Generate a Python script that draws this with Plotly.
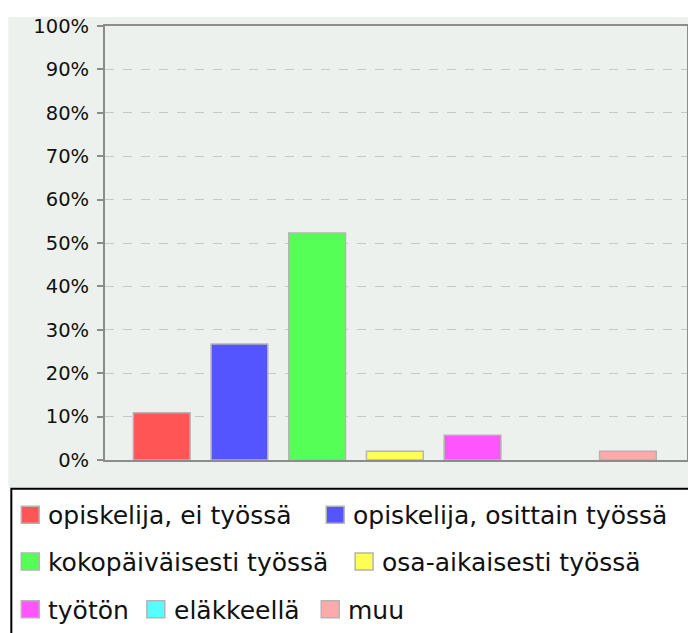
import plotly.graph_objects as go

categories = ["opiskelija, ei työssä", "opiskelija, osittain työssä", "kokopäiväisesti työssä",
              "osa-aikaisesti työssä", "työtön", "eläkkeellä", "muu"]
values = [0.109, 0.267, 0.523, 0.020, 0.057, 0.0, 0.020]
colors = ["#ff5555", "#5555ff", "#55ff55", "#ffff55", "#ff55ff", "#55ffff", "#ffaaaa"]
tick_vals = [i / 10 for i in range(11)]
tick_text = [f"{i * 10}%" for i in range(11)]

# page body has an 8px margin; figure sits at (8, 8)
OFF = 8
W, H = 696 - OFF, 633 - OFF
L, R, T, B = 105 - OFF, 7, 24 - OFF, 173
PW, PH = W - L - R, H - T - B


def px(x):  # page pixel x -> paper
    return (x - OFF - L) / PW


def py(y):  # page pixel y -> paper
    return (H - B - (y - OFF)) / PH


outline = ["#b4b4b4" if v > 0 else "rgba(0,0,0,0)" for v in values]

fig = go.Figure()
fig.add_trace(go.Bar(
    x=categories, y=values,
    marker=dict(color=colors, line=dict(color=outline, width=1.5)),
    showlegend=False, hoverinfo="x+y",
))

shapes = []
annotations = []
# grey chart background
shapes.append(dict(type="rect", xref="paper", yref="paper", layer="below",
                   x0=px(8), x1=px(704), y0=py(15), y1=py(488),
                   fillcolor="#edf1ed", line=dict(width=0)))
# legend box
shapes.append(dict(type="rect", xref="paper", yref="paper",
                   x0=px(11), x1=px(706), y0=py(489), y1=py(645),
                   fillcolor="white", line=dict(color="black", width=2)))

# legend layout: (category index, square x pixel, row center y pixel)
legend_layout = [
    (0, 21, 515), (1, 327, 515),
    (2, 21, 562), (3, 356, 562),
    (4, 21, 610), (5, 147, 610), (6, 322, 610),
]
for idx, sx, cy in legend_layout:
    shapes.append(dict(type="rect", xref="paper", yref="paper",
                       x0=px(sx), x1=px(sx + 18), y0=py(cy - 8.5), y1=py(cy + 8.5),
                       fillcolor=colors[idx], line=dict(color="#b4b4b4", width=1.5)))
    annotations.append(dict(xref="paper", yref="paper", x=px(sx + 25), y=py(cy + 1),
                            xanchor="left", yanchor="middle", showarrow=False,
                            text=categories[idx],
                            font=dict(family="DejaVu Sans", size=25, color="#111111")))

fig.update_layout(
    width=W, height=H,
    margin=dict(l=L, r=R, t=T, b=B, pad=0),
    paper_bgcolor="white",
    plot_bgcolor="#edf1ed",
    bargap=0.27,
    shapes=shapes,
    annotations=annotations,
    font=dict(family="DejaVu Sans", color="#222222"),
    xaxis=dict(range=[-0.73, 6.76], showticklabels=False, ticks="",
               showgrid=False, zeroline=False, showline=True,
               linecolor="#8c8c8c", linewidth=2, mirror=True, fixedrange=True),
    yaxis=dict(range=[0, 1.0], tickvals=tick_vals, ticktext=tick_text,
               ticks="outside", ticklen=6, tickcolor="#8c8c8c", tickwidth=1.5,
               ticklabelstandoff=4,
               tickfont=dict(family="DejaVu Sans", size=19.5, color="#111111"),
               showgrid=True, gridcolor="#c8c8c8", griddash="dash", gridwidth=1,
               zeroline=False, showline=True, linecolor="#8c8c8c", linewidth=2,
               mirror=True, fixedrange=True),
)

fig.write_html("out.html")
